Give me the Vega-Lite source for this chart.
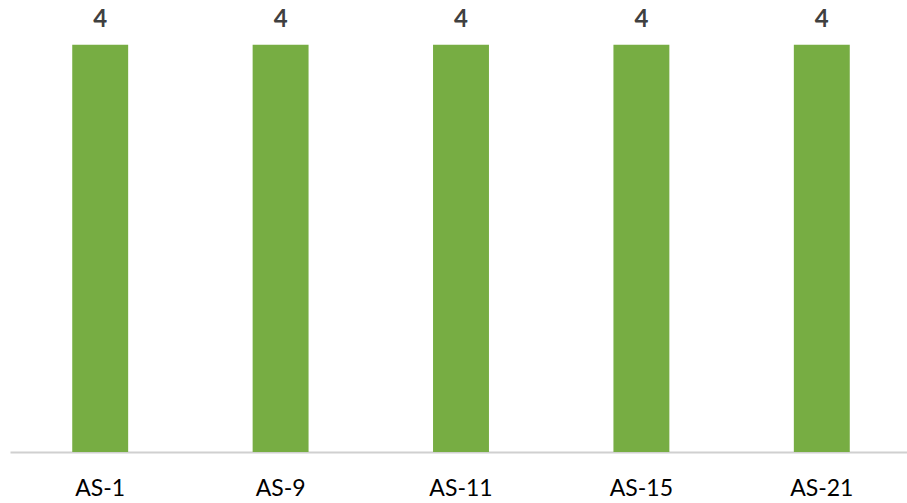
{
  "$schema": "https://vega.github.io/schema/vega-lite/v6.json",
  "width": 902,
  "height": 452,
  "autosize": {"type": "none"},
  "padding": {"left": 10, "top": 0, "right": 0, "bottom": 51},
  "background": "white",
  "config": {"view": {"stroke": null}},
  "data": {"values": [
    {"name": "AS-1", "value": 4},
    {"name": "AS-9", "value": 4},
    {"name": "AS-11", "value": 4},
    {"name": "AS-15", "value": 4},
    {"name": "AS-21", "value": 4}
  ]},
  "encoding": {
    "x": {"field": "name", "type": "nominal", "sort": null,
      "scale": {"paddingInner": 0.69, "paddingOuter": 0.345},
      "axis": {"title": null, "labelAngle": 0, "ticks": false, "domainColor": "#D0D0D0", "domainWidth": 2,
        "labelFont": "Lato", "labelFontSize": 23, "labelColor": "#000000", "labelPadding": 25}},
    "y": {"field": "value", "type": "quantitative",
      "scale": {"domain": [0, 4.44], "nice": false},
      "axis": null}
  },
  "layer": [
    {"mark": {"type": "bar", "color": "#77AD43"}},
    {"mark": {"type": "text", "baseline": "bottom", "dy": -13, "font": "Lato", "fontSize": 24, "fontWeight": "bold", "color": "#404040"},
     "encoding": {"text": {"field": "value", "type": "quantitative"}}}
  ]
}
